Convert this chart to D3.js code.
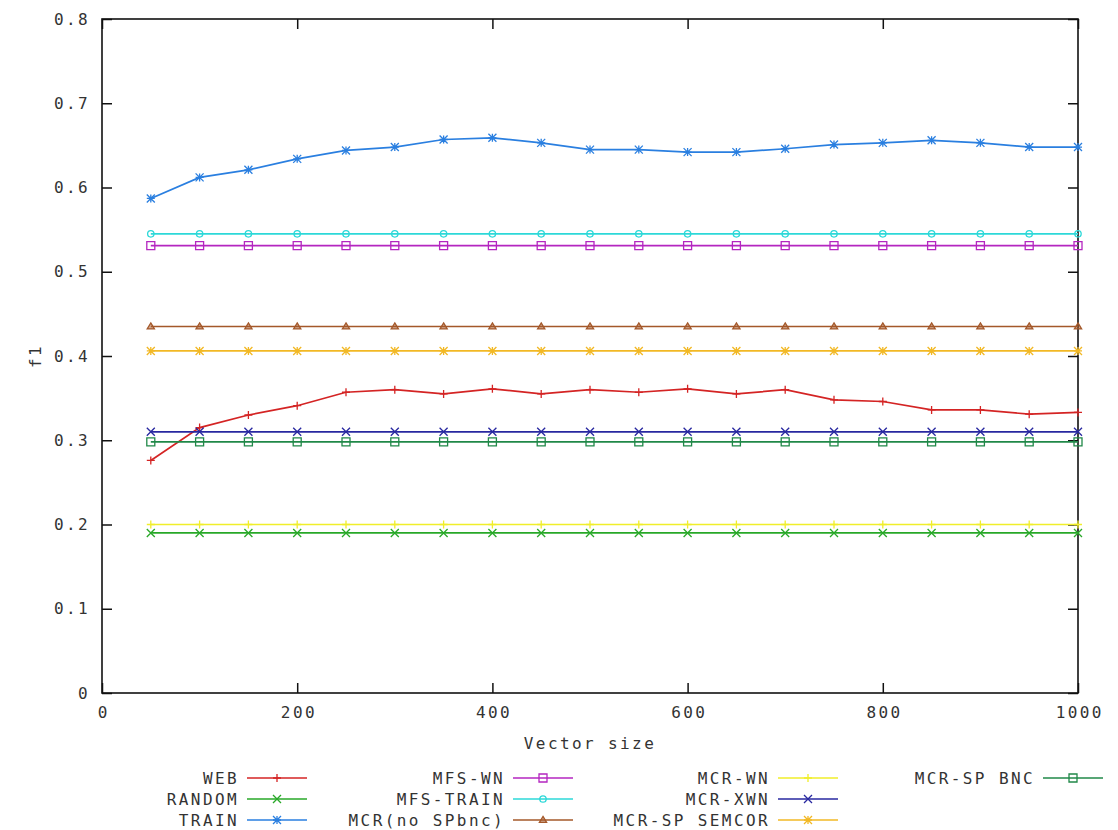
<!DOCTYPE html>
<html>
<head>
<meta charset="utf-8">
<script src="https://cdn.jsdelivr.net/npm/d3@7"></script>
<style>
  body { margin: 0; background: #fff; }
  text { font-family: "DejaVu Sans Mono", monospace; font-size: 16px; letter-spacing: 2.4px; fill: #333; }
</style>
</head>
<body>
<div id="chart"></div>
<script>
// data
const xValues = [50, 100, 150, 200, 250, 300, 350, 400, 450, 500, 550, 600, 650, 700, 750, 800, 850, 900, 950, 1000];

const web = [0.276, 0.315, 0.330, 0.341, 0.357, 0.360, 0.355, 0.361, 0.355, 0.360, 0.357, 0.361, 0.355, 0.360, 0.348, 0.346, 0.336, 0.336, 0.331, 0.333];
const random = [0.190, 0.190, 0.190, 0.190, 0.190, 0.190, 0.190, 0.190, 0.190, 0.190, 0.190, 0.190, 0.190, 0.190, 0.190, 0.190, 0.190, 0.190, 0.190, 0.190];
const train = [0.587, 0.612, 0.621, 0.634, 0.644, 0.648, 0.657, 0.659, 0.653, 0.645, 0.645, 0.642, 0.642, 0.646, 0.651, 0.653, 0.656, 0.653, 0.648, 0.648];
const mfsWn = [0.531, 0.531, 0.531, 0.531, 0.531, 0.531, 0.531, 0.531, 0.531, 0.531, 0.531, 0.531, 0.531, 0.531, 0.531, 0.531, 0.531, 0.531, 0.531, 0.531];
const mfsTrain = [0.545, 0.545, 0.545, 0.545, 0.545, 0.545, 0.545, 0.545, 0.545, 0.545, 0.545, 0.545, 0.545, 0.545, 0.545, 0.545, 0.545, 0.545, 0.545, 0.545];
const mcrNoSp = [0.435, 0.435, 0.435, 0.435, 0.435, 0.435, 0.435, 0.435, 0.435, 0.435, 0.435, 0.435, 0.435, 0.435, 0.435, 0.435, 0.435, 0.435, 0.435, 0.435];
const mcrWn = [0.200, 0.200, 0.200, 0.200, 0.200, 0.200, 0.200, 0.200, 0.200, 0.200, 0.200, 0.200, 0.200, 0.200, 0.200, 0.200, 0.200, 0.200, 0.200, 0.200];
const mcrXwn = [0.310, 0.310, 0.310, 0.310, 0.310, 0.310, 0.310, 0.310, 0.310, 0.310, 0.310, 0.310, 0.310, 0.310, 0.310, 0.310, 0.310, 0.310, 0.310, 0.310];
const mcrSemcor = [0.406, 0.406, 0.406, 0.406, 0.406, 0.406, 0.406, 0.406, 0.406, 0.406, 0.406, 0.406, 0.406, 0.406, 0.406, 0.406, 0.406, 0.406, 0.406, 0.406];
const mcrBnc = [0.298, 0.298, 0.298, 0.298, 0.298, 0.298, 0.298, 0.298, 0.298, 0.298, 0.298, 0.298, 0.298, 0.298, 0.298, 0.298, 0.298, 0.298, 0.298, 0.298];

const seriesNames = ["WEB", "RANDOM", "TRAIN", "MFS-WN", "MFS-TRAIN", "MCR(no SPbnc)", "MCR-WN", "MCR-XWN", "MCR-SP SEMCOR", "MCR-SP BNC"];
const seriesValues = [web, random, train, mfsWn, mfsTrain, mcrNoSp, mcrWn, mcrXwn, mcrSemcor, mcrBnc];
const seriesColors = ["#d42424", "#28a828", "#2a7fe0", "#b426c0", "#2cd8d8", "#a4582a", "#f0ee2a", "#2828a0", "#f2b824", "#208848"];
const seriesMarkers = ["plus", "cross", "star", "square", "circle", "triangle", "plus", "cross", "star", "square"];

const xTicks = [0, 200, 400, 600, 800, 1000];
const yTicks = [0, 0.1, 0.2, 0.3, 0.4, 0.5, 0.6, 0.7, 0.8];
const yTickLabels = ["0", "0.1", "0.2", "0.3", "0.4", "0.5", "0.6", "0.7", "0.8"];

// sizes
const w = 1118, h = 830;
const pLeft = 102, pRight = 1078, pTop = 19, pBottom = 693;

const svg = d3.select("#chart").append("svg")
  .attr("width", w)
  .attr("height", h);

const xScale = d3.scaleLinear().domain([0, 1000]).range([pLeft, pRight]);
const yScale = d3.scaleLinear().domain([0, 0.8]).range([pBottom, pTop]);

// marker shapes (gnuplot style)
function markerPath(type, s) {
  if (type == "plus") return `M${-s},0H${s}M0,${-s}V${s}`;
  if (type == "cross") return `M${-s},${-s}L${s},${s}M${-s},${s}L${s},${-s}`;
  if (type == "star") return `M${-s},0H${s}M0,${-s}V${s}M${-s},${-s}L${s},${s}M${-s},${s}L${s},${-s}`;
  if (type == "square") return `M${-s},${-s}H${s}V${s}H${-s}Z`;
  if (type == "circle") return d3.arc()({innerRadius: 0, outerRadius: s * 0.8, startAngle: 0, endAngle: 2 * Math.PI});
  if (type == "triangle") return `M0,${-s * 0.9}L${s * 0.9},${s * 0.6}L${-s * 0.9},${s * 0.6}Z`;
}

// axes, ticks pointing inwards like gnuplot
const xAxis = svg.append("g")
  .attr("transform", "translate(0," + pBottom + ")")
  .call(d3.axisBottom(xScale).tickValues(xTicks).tickSize(-10).tickPadding(14).tickFormat(d3.format("d")));
const xAxisTop = svg.append("g")
  .attr("transform", "translate(0," + pTop + ")")
  .call(d3.axisTop(xScale).tickValues(xTicks).tickSize(-10).tickFormat(""));
const yAxis = svg.append("g")
  .attr("transform", "translate(" + pLeft + ",0)")
  .call(d3.axisLeft(yScale).tickValues(yTicks).tickSize(-10).tickPadding(12).tickFormat((d, i) => yTickLabels[i]));
const yAxisRight = svg.append("g")
  .attr("transform", "translate(" + pRight + ",0)")
  .call(d3.axisRight(yScale).tickValues(yTicks).tickSize(-10).tickFormat(""));

svg.selectAll(".domain").remove();
svg.selectAll(".tick line").attr("stroke", "#111").attr("stroke-width", 1.5);
svg.selectAll(".tick text")
  .attr("font-family", null)
  .attr("font-size", null)
  .attr("fill", "#333");
xAxis.selectAll(".tick text").attr("dx", "1.2px");

// frame
svg.append("rect")
  .attr("x", pLeft)
  .attr("y", pTop)
  .attr("width", pRight - pLeft)
  .attr("height", pBottom - pTop)
  .attr("fill", "none")
  .attr("stroke", "#111")
  .attr("stroke-width", 1.6);

// axis titles
svg.append("text")
  .attr("x", (pLeft + pRight) / 2)
  .attr("y", 749)
  .attr("text-anchor", "middle")
  .text("Vector size");
svg.append("text")
  .attr("transform", "translate(41," + ((pTop + pBottom) / 2) + ") rotate(-90)")
  .attr("text-anchor", "middle")
  .text("f1");

// lines and markers
const line = d3.line()
  .x((d) => xScale(d[0]))
  .y((d) => yScale(d[1]));

const plot = svg.append("g");

seriesValues.forEach(function(vals, i) {
  const pts = xValues.map((x, j) => [x, vals[j]]);
  plot.append("path")
    .datum(pts)
    .attr("d", line)
    .attr("fill", "none")
    .attr("stroke", seriesColors[i])
    .attr("stroke-width", 1.7);
  plot.selectAll(".m" + i)
    .data(pts)
    .enter()
    .append("path")
    .attr("class", "m" + i)
    .attr("transform", (d) => "translate(" + xScale(d[0]) + "," + yScale(d[1]) + ")")
    .attr("d", markerPath(seriesMarkers[i], 4))
    .attr("fill", seriesMarkers[i] == "triangle" ? seriesColors[i] : "none")
    .attr("fill-opacity", 0.5)
    .attr("stroke", seriesColors[i])
    .attr("stroke-width", 1.3);
});

// legend: 4 columns of 3 rows
const legendX = [247, 513, 778, 1043];
const legendY = [778, 799, 820];
const legend = svg.append("g");

seriesNames.forEach(function(name, i) {
  const col = Math.floor(i / 3), row = i % 3;
  const x0 = legendX[col], y0 = legendY[row];
  legend.append("text")
    .attr("x", x0 - 8)
    .attr("y", y0)
    .attr("dy", "0.35em")
    .attr("text-anchor", "end")
    .text(name);
  legend.append("line")
    .attr("x1", x0)
    .attr("x2", x0 + 60)
    .attr("y1", y0)
    .attr("y2", y0)
    .attr("stroke", seriesColors[i])
    .attr("stroke-width", 1.7);
  legend.append("path")
    .attr("transform", "translate(" + (x0 + 30) + "," + y0 + ")")
    .attr("d", markerPath(seriesMarkers[i], 4))
    .attr("fill", seriesMarkers[i] == "triangle" ? seriesColors[i] : "none")
    .attr("fill-opacity", 0.5)
    .attr("stroke", seriesColors[i])
    .attr("stroke-width", 1.3);
});
</script>
</body>
</html>
